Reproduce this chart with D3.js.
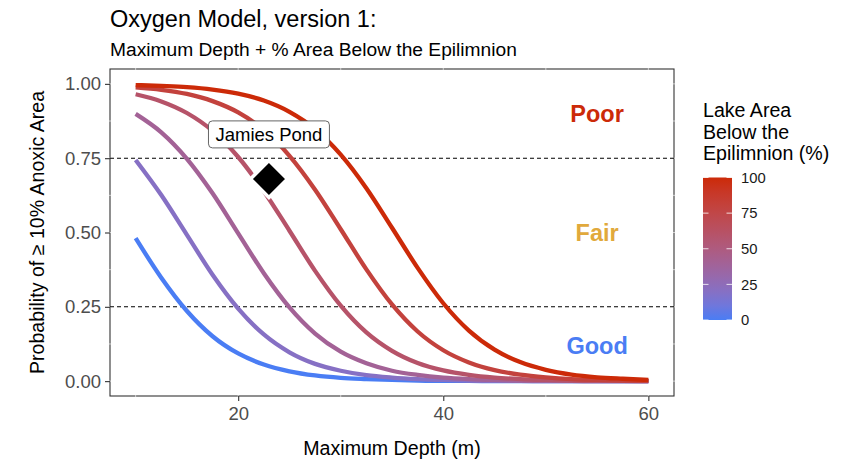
<!DOCTYPE html>
<html>
<head>
<meta charset="utf-8">
<script src="https://cdn.jsdelivr.net/npm/d3@7"></script>
<style>
  body { margin: 0; background: #fff; }
  svg { display: block; font-family: "Liberation Sans", Arial, Helvetica, sans-serif; }
</style>
</head>
<body>
<script>
// values
const depths = [10, 12.5, 15, 17.5, 20, 22.5, 25, 27.5, 30, 32.5, 35, 37.5, 40, 42.5, 45, 47.5, 50, 52.5, 55, 57.5, 60];
const areaLevels = [0, 20, 40, 60, 80, 100];
const prob0   = [0.481, 0.348, 0.236, 0.151, 0.093, 0.056, 0.033, 0.019, 0.011, 0.007, 0.004, 0.002, 0.001, 0.001, 0, 0, 0, 0, 0, 0, 0];
const prob20  = [0.744, 0.626, 0.492, 0.358, 0.244, 0.157, 0.097, 0.058, 0.035, 0.020, 0.012, 0.007, 0.004, 0.002, 0.001, 0.001, 0, 0, 0, 0, 0];
const prob40  = [0.899, 0.837, 0.748, 0.632, 0.497, 0.363, 0.248, 0.160, 0.099, 0.060, 0.035, 0.021, 0.012, 0.007, 0.004, 0.002, 0.001, 0.001, 0, 0, 0];
const prob60  = [0.965, 0.941, 0.902, 0.842, 0.754, 0.639, 0.506, 0.371, 0.254, 0.164, 0.102, 0.061, 0.036, 0.021, 0.012, 0.007, 0.004, 0.002, 0.001, 0.001, 0];
const prob80  = [0.988, 0.980, 0.966, 0.942, 0.904, 0.845, 0.758, 0.644, 0.511, 0.376, 0.258, 0.167, 0.104, 0.063, 0.037, 0.022, 0.013, 0.007, 0.004, 0.002, 0.001];
const prob100 = [0.996, 0.993, 0.989, 0.981, 0.967, 0.944, 0.906, 0.848, 0.762, 0.649, 0.516, 0.381, 0.262, 0.170, 0.106, 0.064, 0.038, 0.022, 0.013, 0.008, 0.004];
const seriesProbs = [prob0, prob20, prob40, prob60, prob80, prob100];

const thresholds = [0.25, 0.75];
const zoneLabels = ["Poor", "Fair", "Good"];
const zoneProbs = [0.9, 0.5, 0.12];
const zoneDepth = 55;

const pondName = "Jamies Pond";
const pondDepth = 23;
const pondProb = 0.68;
const pondLabelProb = 0.83;

const xTicks = [20, 40, 60];
const yTicks = [0, 0.25, 0.5, 0.75, 1];
const legendTicks = [0, 25, 50, 75, 100];

const W = 849, H = 461;
const panel = { left: 110, right: 674, top: 69, bottom: 396 };
const lowCol = "#4A7DF4", highCol = "#CC2A08";

const svg = d3.select("body").append("svg")
  .attr("width", W)
  .attr("height", H);

const x = d3.scaleLinear().domain([7.5, 62.5]).range([panel.left, panel.right]);
const y = d3.scaleLinear().domain([-0.05, 1.05]).range([panel.bottom, panel.top]);
const colour = d3.scaleLinear().domain([0, 100]).range([lowCol, highCol]).interpolate(d3.interpolateLab);

// titles
svg.append("text")
  .attr("x", panel.left).attr("y", 27)
  .attr("font-size", 23.5).attr("fill", "#000")
  .text("Oxygen Model, version 1:");
svg.append("text")
  .attr("x", panel.left).attr("y", 55.5)
  .attr("font-size", 19.2).attr("fill", "#000")
  .text("Maximum Depth + % Area Below the Epilimnion");

// panel border
svg.append("rect")
  .attr("x", panel.left).attr("y", panel.top)
  .attr("width", panel.right - panel.left).attr("height", panel.bottom - panel.top)
  .attr("fill", "none").attr("stroke", "#333").attr("stroke-width", 1.1);

// faint white grid over the border
const grid = svg.append("g").attr("stroke", "#fff").attr("stroke-opacity", 0.6).attr("stroke-width", 1);
[10, 20, 30, 40, 50, 60].forEach(v => {
  grid.append("line").attr("x1", x(v)).attr("x2", x(v)).attr("y1", panel.top - 1).attr("y2", panel.bottom + 1);
});
[0, 0.125, 0.25, 0.375, 0.5, 0.625, 0.75, 0.875, 1].forEach(v => {
  grid.append("line").attr("y1", y(v)).attr("y2", y(v)).attr("x1", panel.left - 1).attr("x2", panel.right + 1);
});

// axes
const xAxis = svg.append("g")
  .attr("transform", `translate(0,${panel.bottom})`)
  .call(d3.axisBottom(x).tickValues(xTicks).tickSize(5).tickPadding(6).tickFormat(d3.format("d")));
const yAxis = svg.append("g")
  .attr("transform", `translate(${panel.left},0)`)
  .call(d3.axisLeft(y).tickValues(yTicks).tickSize(5).tickPadding(4).tickFormat(d3.format(".2f")));
[xAxis, yAxis].forEach(a => {
  a.select(".domain").remove();
  a.selectAll(".tick line").attr("stroke", "#333").attr("stroke-width", 1.1);
  a.selectAll(".tick text").attr("fill", "#4d4d4d").attr("font-size", 18.5).attr("font-family", null);
  a.attr("font-family", null);
});

// axis titles
svg.append("text")
  .attr("x", (panel.left + panel.right) / 2).attr("y", 455)
  .attr("text-anchor", "middle").attr("font-size", 19.6)
  .text("Maximum Depth (m)");
svg.append("text")
  .attr("transform", `translate(43.5,${(panel.top + panel.bottom) / 2}) rotate(-90)`)
  .attr("text-anchor", "middle").attr("font-size", 19.6)
  .text("Probability of \u2265 10% Anoxic Area");

// threshold lines
svg.append("g").selectAll("line")
  .data(thresholds)
  .join("line")
  .attr("x1", panel.left).attr("x2", panel.right)
  .attr("y1", d => y(d)).attr("y2", d => y(d))
  .attr("stroke", "#000").attr("stroke-width", 1.1)
  .attr("stroke-dasharray", "4,3");

// curves
const line = d3.line()
  .x(d => x(d[0]))
  .y(d => y(d[1]))
  .curve(d3.curveMonotoneX);

svg.append("g").selectAll("path")
  .data(areaLevels.map((a, i) => ({ area: a, pts: depths.map((d, j) => [d, seriesProbs[i][j]]) })))
  .join("path")
  .attr("d", d => line(d.pts))
  .attr("fill", "none")
  .attr("stroke", d => colour(d.area))
  .attr("stroke-width", 4.3);

// zone labels
svg.append("g").selectAll("text")
  .data(zoneLabels)
  .join("text")
  .attr("x", x(zoneDepth))
  .attr("y", (d, i) => y(zoneProbs[i]))
  .attr("dy", "0.36em")
  .attr("text-anchor", "middle")
  .attr("font-size", 23.5)
  .attr("font-weight", "bold")
  .attr("fill", (d, i) => [highCol, "#E1A93C", lowCol][i])
  .text(d => d);

// Jamies Pond point
const px = x(pondDepth), py = y(pondProb), s = 18.5;
svg.append("path")
  .attr("d", `M${px},${py - s}L${px + s},${py}L${px},${py + s}L${px - s},${py}Z`)
  .attr("fill", "#000").attr("stroke", "#fff").attr("stroke-width", 3.5);

// label
const lab = svg.append("g");
const labText = lab.append("text")
  .attr("x", px).attr("y", y(pondLabelProb))
  .attr("dy", "0.36em")
  .attr("text-anchor", "middle")
  .attr("font-size", 18.5)
  .text(pondName);
const tw = labText.node().getComputedTextLength();
lab.insert("rect", "text")
  .attr("x", px - tw / 2 - 7).attr("y", y(pondLabelProb) - 13.5)
  .attr("width", tw + 14).attr("height", 27)
  .attr("rx", 4).attr("ry", 4)
  .attr("fill", "#fff").attr("stroke", "#555").attr("stroke-width", 0.9);

// legend
const leg = { x: 703, top: 177.5, bottom: 320, w: 29 };
const defs = svg.append("defs");
const grad = defs.append("linearGradient")
  .attr("id", "areaGrad")
  .attr("x1", 0).attr("y1", 1).attr("x2", 0).attr("y2", 0);
d3.range(0, 101, 10).forEach(v => {
  grad.append("stop").attr("offset", `${v}%`).attr("stop-color", colour(v));
});

const legTitle = ["Lake Area", "Below the", "Epilimnion (%)"];
svg.append("g").selectAll("text")
  .data(legTitle)
  .join("text")
  .attr("x", leg.x)
  .attr("y", (d, i) => 117 + i * 21.5)
  .attr("font-size", 19.6)
  .text(d => d);

const ly = d3.scaleLinear().domain([0, 100]).range([leg.bottom, leg.top]);
svg.append("rect")
  .attr("x", leg.x).attr("y", leg.top)
  .attr("width", leg.w).attr("height", leg.bottom - leg.top)
  .attr("fill", "url(#areaGrad)");

const legTicks = svg.append("g").attr("stroke", "#fff").attr("stroke-width", 1).attr("stroke-opacity", 0.8);
legendTicks.forEach(v => {
  legTicks.append("line").attr("x1", leg.x).attr("x2", leg.x + 5.5).attr("y1", ly(v)).attr("y2", ly(v));
  legTicks.append("line").attr("x1", leg.x + leg.w - 5.5).attr("x2", leg.x + leg.w).attr("y1", ly(v)).attr("y2", ly(v));
});

svg.append("g").selectAll("text")
  .data(legendTicks)
  .join("text")
  .attr("x", leg.x + leg.w + 9)
  .attr("y", d => ly(d))
  .attr("dy", "0.36em")
  .attr("font-size", 14.8)
  .attr("fill", "#1a1a1a")
  .text(d => d);
</script>
</body>
</html>
